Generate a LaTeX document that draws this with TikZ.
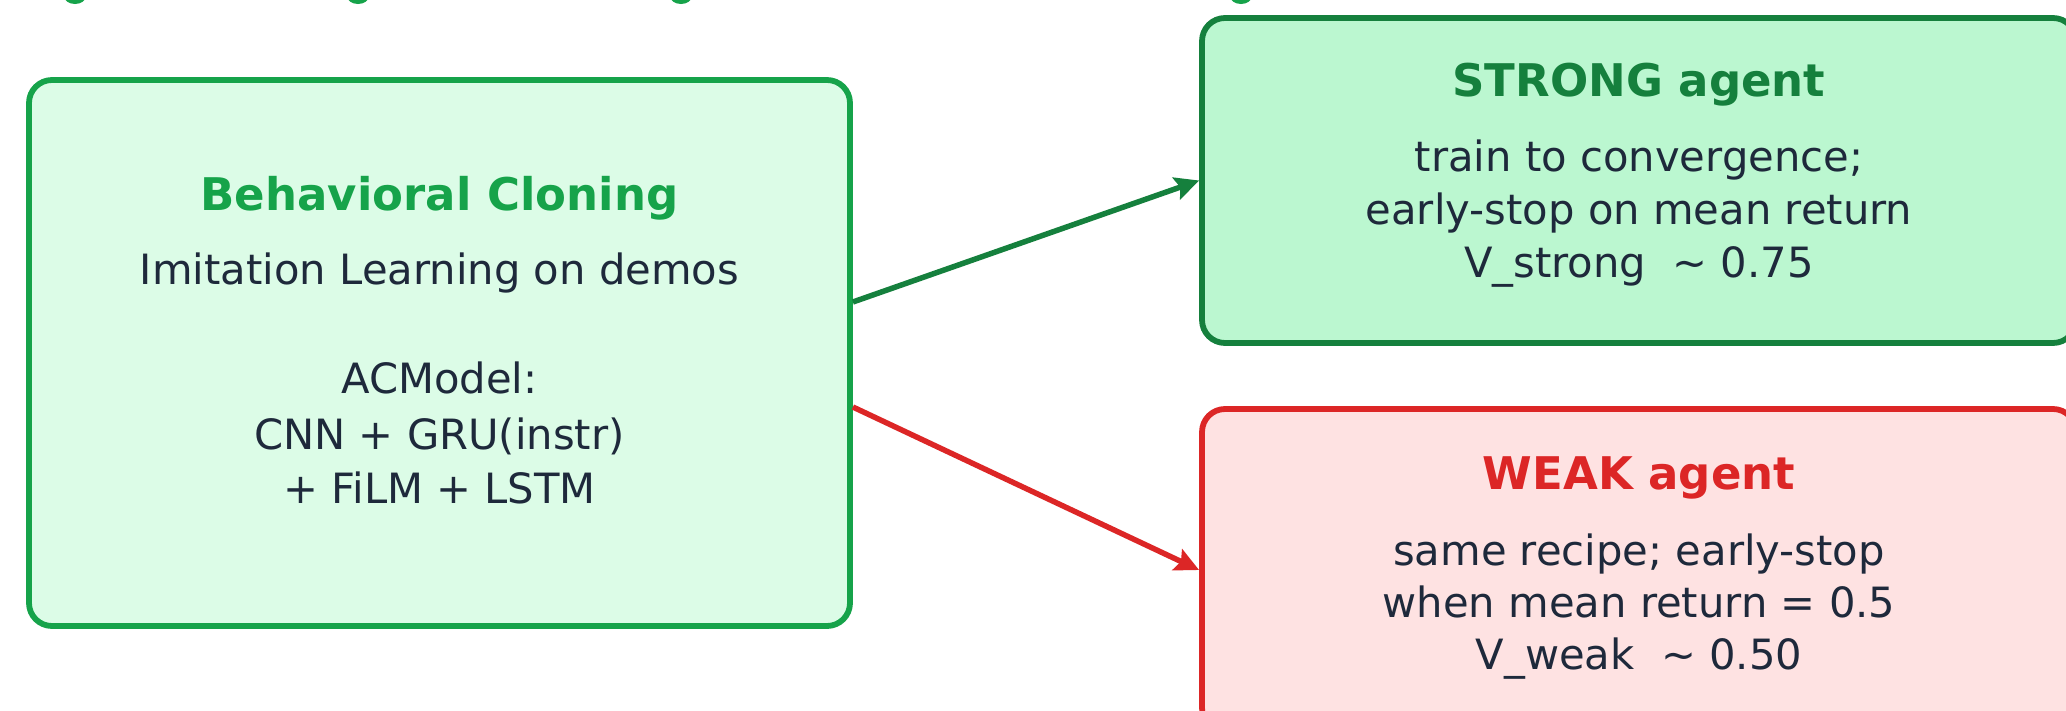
\documentclass[tikz,border=0pt]{standalone}
\usepackage{fontspec}
\setmainfont{DejaVu Sans}
\usetikzlibrary{arrows.meta}
\definecolor{bcline}{HTML}{16A34A}
\definecolor{bcfill}{HTML}{DCFCE7}
\definecolor{stline}{HTML}{15803D}
\definecolor{stfill}{HTML}{BBF7D0}
\definecolor{wkline}{HTML}{DC2626}
\definecolor{wkfill}{HTML}{FEE2E2}
\definecolor{txt}{HTML}{1E293B}
\begin{document}
\begin{tikzpicture}[x=1pt,y=-1pt,
  box/.style={draw, line width=5.8pt, rounded corners=23pt, inner sep=0pt},
  ttl/.style={anchor=base, inner sep=0pt, font=\fontsize{45}{54}\selectfont\bfseries},
  body/.style={anchor=base, inner sep=0pt, text=txt, font=\fontsize{41.7}{54}\selectfont},
  conn/.style={line width=5.5pt, -{Stealth[length=24pt,width=23pt,inset=4pt]}},
  frag/.style={fill=bcline}]
\useasboundingbox (0,0) rectangle (2066,710);
\fill[white] (0,0) rectangle (2066,710);
% cut-off descenders of a title above the picture
\fill[frag] (75,-4) ellipse [x radius=11pt, y radius=8pt];
\fill[frag] (358,-4) ellipse [x radius=11pt, y radius=8pt];
\fill[frag] (681,-4) ellipse [x radius=11pt, y radius=8pt];
\fill[frag] (1241,-4) ellipse [x radius=11pt, y radius=8pt];
% boxes
\node[box, draw=bcline, fill=bcfill, minimum width=821pt, minimum height=546pt] (bc) at (439.5,353) {};
\node[box, draw=stline, fill=stfill, minimum width=874pt, minimum height=325pt] (strong) at (1639,180.5) {};
\node[box, draw=wkline, fill=wkfill, minimum width=874pt, minimum height=322pt] (weak) at (1639,570) {};
% left texts
\node[ttl, text=bcline] (bct) at (439.5,210) {Behavioral Cloning};
\node[body] (bc1) at (439.5,284) {Imitation Learning on demos};
\node[body] (bc2) at (439.5,393) {ACModel:};
\node[body] (bc3) at (439.5,449) {CNN + GRU(instr)};
\node[body] (bc4) at (439.5,503) {+ FiLM + LSTM};
% strong texts
\node[ttl, text=stline] (stt) at (1639,96) {STRONG agent};
\node[body] (st1) at (1639,171) {train to convergence;};
\node[body] (st2) at (1639,224) {early-stop on mean return};
\node[body] (st3) at (1639,277) {V\_strong\ \ \textasciitilde{} 0.75};
% weak texts
\node[ttl, text=wkline] (wkt) at (1639,489) {WEAK agent};
\node[body] (wk1) at (1639,565) {same recipe; early-stop};
\node[body] (wk2) at (1639,617) {when mean return = 0.5};
\node[body] (wk3) at (1639,669) {V\_weak\ \ \textasciitilde{} 0.50};
% connectors
\draw[conn, draw=stline, fill=stline] ([yshift=51pt]bc.east) -- (strong.west);
\draw[conn, draw=wkline, fill=wkline] ([yshift=-54pt]bc.east) -- (weak.west);
\end{tikzpicture}
\end{document}
